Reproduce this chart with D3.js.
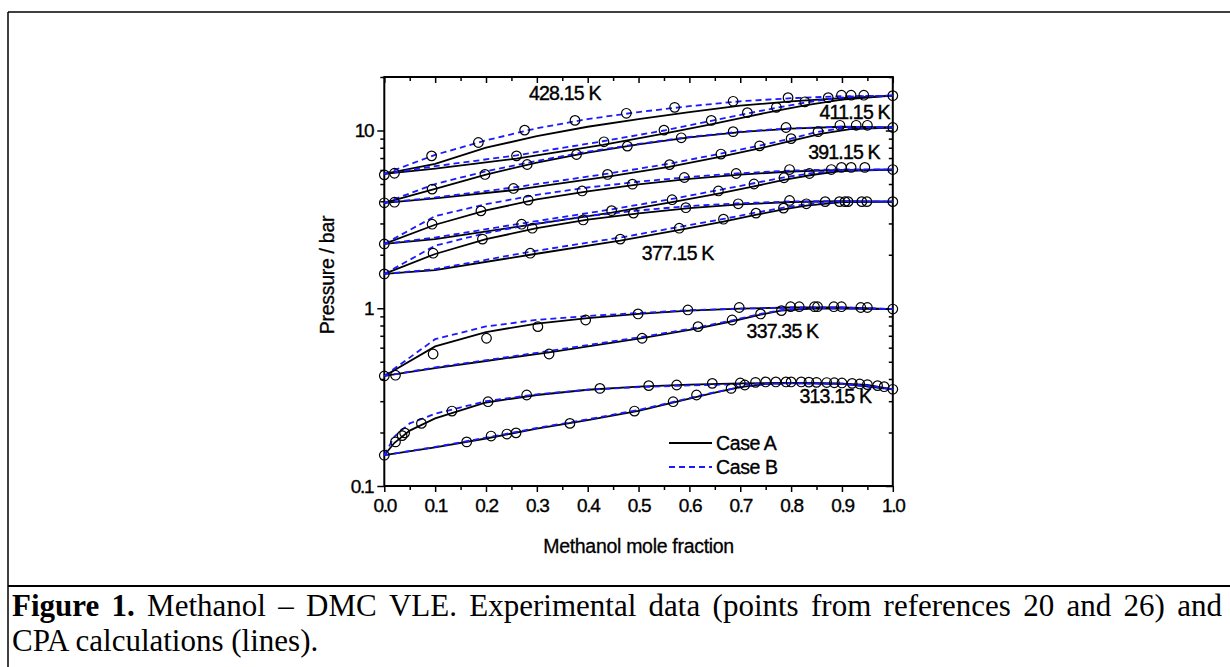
<!DOCTYPE html>
<html>
<head>
<meta charset="utf-8">
<script src="https://cdnjs.cloudflare.com/ajax/libs/d3/7.8.5/d3.min.js"></script>
<style>
body { margin:0; background:#fff; }
svg { display:block; }
.lbl { font-family:"Liberation Sans", Arial, sans-serif; fill:#000; }
.cap { font-family:"Liberation Serif", "Times New Roman", serif; font-size:31px; fill:#000; }
</style>
</head>
<body>
<div id="chart"></div>
<script>
var W = 1230, H = 667;
var margin = {top: 77, left: 384.3}
  , width = 508.5
  , height = 409;

var xTicks = [0, 0.1, 0.2, 0.3, 0.4, 0.5, 0.6, 0.7, 0.8, 0.9, 1.0];
var yTicks = [0.1, 1, 10];
var temps = ["428.15 K", "411.15 K", "391.15 K", "377.15 K", "337.35 K", "313.15 K"];

// experimental points [x, P/bar]
var exp428 = [[0,5.63],[0.02,5.75],[0.093,7.2],[0.185,8.56],[0.276,10.05],[0.375,11.4],[0.476,12.5],[0.571,13.5],[0.686,14.6],[0.794,15.3],[0.873,15.3],[0.899,15.8],[0.918,15.8],[0.943,15.8],[1,15.7],
  [0.26,7.2],[0.432,8.64],[0.55,10.05],[0.643,11.4],[0.714,12.6],[0.771,13.5],[0.827,14.5]];
var exp411 = [[0,3.92],[0.02,3.95],[0.094,4.68],[0.198,5.66],[0.281,6.44],[0.378,7.33],[0.478,8.17],[0.584,9.1],[0.686,9.85],[0.79,10.4],[0.896,10.7],[0.928,10.7],[0.95,10.7],[1,10.4],
  [0.254,4.72],[0.439,5.66],[0.561,6.43],[0.662,7.37],[0.738,8.2],[0.80,9.0],[0.853,9.85]];
var exp391 = [[0,2.3],[0.094,2.97],[0.19,3.53],[0.283,4.06],[0.389,4.57],[0.488,4.99],[0.59,5.44],[0.692,5.73],[0.797,6.03],[0.879,6.03],[0.899,6.2],[0.918,6.2],[0.945,6.2],[1,6.03],
  [0.27,2.97],[0.447,3.54],[0.566,4.08],[0.657,4.57],[0.727,5.0],[0.786,5.42],[0.836,5.73]];
var exp377 = [[0,1.56],[0.096,2.04],[0.193,2.45],[0.291,2.82],[0.391,3.14],[0.49,3.43],[0.593,3.68],[0.696,3.87],[0.797,4.04],[0.867,3.98],[0.906,3.98],[0.949,3.98],[1,3.98],
  [0.287,2.04],[0.464,2.45],[0.58,2.82],[0.667,3.17],[0.731,3.43],[0.785,3.66],[0.83,3.87],[0.895,3.98],[0.912,3.98],[0.939,3.98]];
var exp337 = [[0,0.416],[0.022,0.42],[0.096,0.553],[0.201,0.678],[0.302,0.788],[0.396,0.859],[0.499,0.929],[0.597,0.978],[0.698,1.01],[0.799,1.02],[0.816,1.02],[0.846,1.02],[0.852,1.02],[0.884,1.02],[0.899,1.02],[0.937,1.01],[0.95,1.01],[1,0.99],
  [0.324,0.553],[0.507,0.678],[0.617,0.788],[0.684,0.859],[0.74,0.929],[0.781,0.97]];
var exp313 = [[0,0.149],[0.022,0.177],[0.035,0.192],[0.04,0.199],[0.073,0.225],[0.133,0.264],[0.204,0.298],[0.28,0.325],[0.424,0.354],[0.52,0.367],[0.575,0.37],[0.645,0.378],[0.7,0.38],[0.73,0.383],[0.75,0.385],[0.77,0.385],[0.79,0.385],[0.80,0.385],[0.82,0.385],[0.835,0.384],[0.85,0.383],[0.87,0.382],[0.885,0.381],[0.90,0.38],[0.92,0.378],[0.935,0.375],[0.95,0.372],[0.97,0.367],[0.983,0.362],[1,0.35],
  [0.162,0.177],[0.21,0.191],[0.241,0.196],[0.259,0.199],[0.365,0.225],[0.492,0.264],[0.568,0.298],[0.614,0.325],[0.682,0.354],[0.709,0.37]];

// CPA Case A (solid) bubble / dew
var a428b = [[0,5.7],[0.1,6.5],[0.2,8.0],[0.3,9.3],[0.4,10.5],[0.5,11.6],[0.6,12.7],[0.7,13.8],[0.8,14.6],[0.9,15.2],[1,15.7]];
var a428d = [[0,5.7],[0.1,6.1],[0.26,6.95],[0.43,8.3],[0.55,9.6],[0.64,10.8],[0.71,11.9],[0.77,12.9],[0.83,13.9],[0.9,14.9],[1,15.7]];
var a411b = [[0,3.92],[0.1,4.7],[0.2,5.65],[0.3,6.6],[0.4,7.5],[0.5,8.35],[0.6,9.15],[0.7,9.8],[0.8,10.25],[0.9,10.5],[1,10.4]];
var a411d = [[0,3.92],[0.1,4.15],[0.254,4.62],[0.44,5.5],[0.56,6.25],[0.66,7.1],[0.74,7.95],[0.8,8.75],[0.86,9.6],[0.92,10.2],[1,10.4]];
var a391b = [[0,2.3],[0.1,2.95],[0.2,3.55],[0.3,4.1],[0.4,4.55],[0.5,4.98],[0.6,5.35],[0.7,5.65],[0.8,5.88],[0.9,6.0],[1,6.03]];
var a391d = [[0,2.3],[0.1,2.45],[0.27,2.9],[0.447,3.45],[0.566,3.95],[0.657,4.42],[0.727,4.85],[0.786,5.27],[0.84,5.62],[0.9,5.92],[1,6.03]];
var a377b = [[0,1.56],[0.1,2.02],[0.2,2.45],[0.3,2.82],[0.4,3.15],[0.5,3.42],[0.6,3.66],[0.7,3.84],[0.8,3.96],[0.9,4.0],[1,3.98]];
var a377d = [[0,1.56],[0.1,1.64],[0.287,2.0],[0.464,2.4],[0.578,2.75],[0.667,3.07],[0.73,3.35],[0.785,3.6],[0.83,3.78],[0.9,3.95],[1,3.98]];
var a337b = [[0,0.416],[0.1,0.61],[0.2,0.735],[0.3,0.82],[0.4,0.88],[0.5,0.93],[0.6,0.97],[0.7,0.995],[0.8,1.01],[0.9,1.01],[1,0.99]];
var a337d = [[0,0.416],[0.1,0.46],[0.2,0.505],[0.324,0.565],[0.507,0.68],[0.617,0.77],[0.684,0.845],[0.74,0.92],[0.78,0.97],[0.85,1.0],[1,0.99]];
var a313b = [[0,0.149],[0.02,0.175],[0.05,0.205],[0.1,0.24],[0.2,0.295],[0.3,0.325],[0.4,0.348],[0.5,0.362],[0.6,0.372],[0.7,0.378],[0.8,0.38],[0.9,0.377],[0.95,0.37],[1,0.35]];
var a313d = [[0,0.149],[0.1,0.165],[0.2,0.185],[0.3,0.21],[0.4,0.235],[0.5,0.265],[0.6,0.31],[0.65,0.335],[0.7,0.36],[0.75,0.375],[0.8,0.38],[0.9,0.377],[1,0.35]];

// CPA Case B (dashed) bubble / dew
var b428b = [[0,5.7],[0.1,7.3],[0.2,8.8],[0.3,10.3],[0.4,11.6],[0.5,12.7],[0.6,13.7],[0.7,14.6],[0.8,15.2],[0.9,15.6],[1,15.7]];
var b428d = [[0,5.7],[0.1,6.3],[0.26,7.25],[0.43,8.7],[0.55,10.0],[0.64,11.3],[0.71,12.4],[0.77,13.4],[0.83,14.4],[0.88,15.1],[0.93,15.6],[1,15.7]];
var b411b = [[0,3.92],[0.1,5.0],[0.2,5.9],[0.3,6.75],[0.4,7.6],[0.5,8.4],[0.6,9.2],[0.7,9.85],[0.8,10.3],[0.9,10.5],[1,10.4]];
var b411d = [[0,3.92],[0.1,4.2],[0.254,4.78],[0.44,5.72],[0.56,6.5],[0.66,7.4],[0.74,8.25],[0.8,9.0],[0.85,9.8],[0.9,10.3],[1,10.4]];
var b391b = [[0,2.3],[0.1,3.3],[0.2,3.85],[0.3,4.35],[0.4,4.78],[0.5,5.15],[0.6,5.48],[0.7,5.75],[0.8,5.95],[0.9,6.05],[1,6.03]];
var b391d = [[0,2.3],[0.1,2.5],[0.27,3.0],[0.447,3.6],[0.566,4.12],[0.657,4.62],[0.727,5.05],[0.786,5.45],[0.84,5.75],[0.9,5.98],[1,6.03]];
var b377b = [[0,1.56],[0.1,2.25],[0.2,2.65],[0.3,3.0],[0.4,3.3],[0.5,3.55],[0.6,3.76],[0.7,3.9],[0.8,3.99],[0.9,4.01],[1,3.98]];
var b377d = [[0,1.56],[0.1,1.66],[0.287,2.08],[0.464,2.5],[0.578,2.86],[0.667,3.18],[0.73,3.45],[0.785,3.68],[0.83,3.85],[0.9,3.97],[1,3.98]];
var b337b = [[0,0.416],[0.1,0.67],[0.2,0.79],[0.3,0.86],[0.4,0.905],[0.5,0.94],[0.6,0.975],[0.7,0.995],[0.8,1.01],[0.9,1.01],[1,0.99]];
var b337d = [[0,0.416],[0.1,0.465],[0.2,0.51],[0.324,0.575],[0.507,0.69],[0.617,0.78],[0.684,0.855],[0.74,0.93],[0.78,0.975],[0.85,1.005],[1,0.99]];
var b313b = [[0,0.149],[0.02,0.19],[0.05,0.225],[0.1,0.255],[0.2,0.3],[0.3,0.328],[0.4,0.348],[0.5,0.36],[0.6,0.368],[0.7,0.374],[0.8,0.378],[0.9,0.375],[0.95,0.368],[1,0.35]];
var b313d = [[0,0.149],[0.1,0.166],[0.2,0.187],[0.3,0.212],[0.4,0.237],[0.5,0.268],[0.6,0.312],[0.65,0.337],[0.7,0.36],[0.75,0.374],[0.8,0.378],[0.9,0.375],[1,0.35]];

var caseA = [a428b, a428d, a411b, a411d, a391b, a391d, a377b, a377d, a337b, a337d, a313b, a313d];
var caseB = [b428b, b428d, b411b, b411d, b391b, b391d, b377b, b377d, b337b, b337d, b313b, b313d];
var expAll = [exp428, exp411, exp391, exp377, exp337, exp313];

// label centre per isotherm [x, P at baseline]
var labelPos = [[0.355,14.9],[0.925,11.6],[0.904,6.93],[0.577,1.87],[0.783,0.68],[0.887,0.293]];

var svg = d3.select("#chart").append("svg")
  .attr("width", W)
  .attr("height", H);

// figure frame
svg.append("line").attr("x1", 8).attr("x2", W).attr("y1", 12).attr("y2", 12)
  .attr("stroke", "#000").attr("stroke-width", 1.5);
svg.append("line").attr("x1", 8).attr("x2", 8).attr("y1", 12).attr("y2", H)
  .attr("stroke", "#000").attr("stroke-width", 1.5);
svg.append("line").attr("x1", 8).attr("x2", W).attr("y1", 586).attr("y2", 586)
  .attr("stroke", "#000").attr("stroke-width", 2.2);

var x = d3.scaleLinear().domain([0, 1]).range([0, width]);
var y = d3.scaleLog().domain([0.1, 20]).range([height, 0]);

var g = svg.append("g").attr("transform", "translate(" + margin.left + "," + margin.top + ")");

var xMinor = d3.range(0.05, 1, 0.1);
var yMinor = [0.2,0.3,0.4,0.5,0.6,0.7,0.8,0.9,2,3,4,5,6,7,8,9,20];

function styleAxis(sel, fs, ls) {
  sel.select(".domain").remove();
  sel.selectAll("line").attr("stroke", "#000").attr("stroke-width", 1.5);
  sel.selectAll("text").attr("class", "lbl")
    .style("font-size", fs).style("letter-spacing", ls)
    .attr("stroke", "#000").attr("stroke-width", 0.35);
}

g.append("g").attr("transform", "translate(0," + height + ")")
  .call(d3.axisBottom(x).tickValues(xTicks).tickFormat(d3.format(".1f")).tickSize(6).tickPadding(7))
  .call(styleAxis, "19px", "-1.3px");
g.append("g").attr("transform", "translate(0," + height + ")")
  .call(d3.axisBottom(x).tickValues(xMinor).tickFormat("").tickSize(4))
  .call(styleAxis, "0px", "0");
g.append("g")
  .call(d3.axisTop(x).tickValues(xTicks).tickFormat("").tickSize(-6))
  .call(styleAxis, "0px", "0");
g.append("g")
  .call(d3.axisTop(x).tickValues(xMinor).tickFormat("").tickSize(-4))
  .call(styleAxis, "0px", "0");

g.append("g")
  .call(d3.axisLeft(y).tickValues(yTicks).tickFormat(d3.format("~g")).tickSize(7).tickPadding(4))
  .call(styleAxis, "19px", "-1.3px");
g.append("g")
  .call(d3.axisLeft(y).tickValues(yMinor).tickFormat("").tickSize(4))
  .call(styleAxis, "0px", "0");
g.append("g").attr("transform", "translate(" + width + ",0)")
  .call(d3.axisRight(y).tickValues(yTicks).tickFormat("").tickSize(-7))
  .call(styleAxis, "0px", "0");
g.append("g").attr("transform", "translate(" + width + ",0)")
  .call(d3.axisRight(y).tickValues(yMinor).tickFormat("").tickSize(-4))
  .call(styleAxis, "0px", "0");

g.append("rect")
  .attr("width", width)
  .attr("height", height)
  .attr("fill", "none")
  .attr("stroke", "#000")
  .attr("stroke-width", 2);

var line = d3.line().x(function(d) { return x(d[0]); }).y(function(d) { return y(d[1]); });

g.selectAll(".caseA").data(caseA).enter().append("path")
  .attr("class", "caseA")
  .attr("d", line)
  .attr("fill", "none")
  .attr("stroke", "#000")
  .attr("stroke-width", 1.8);

g.selectAll(".caseB").data(caseB).enter().append("path")
  .attr("class", "caseB")
  .attr("d", line)
  .attr("fill", "none")
  .attr("stroke", "#1a1aff")
  .attr("stroke-width", 1.8)
  .attr("stroke-dasharray", "6,4");

expAll.forEach(function(pts) {
  g.selectAll(null).data(pts).enter().append("circle")
    .attr("cx", function(d) { return x(d[0]); })
    .attr("cy", function(d) { return y(d[1]); })
    .attr("r", 4.8)
    .attr("fill", "none")
    .attr("stroke", "#000")
    .attr("stroke-width", 1.2);
});

g.selectAll(".tlab").data(temps).enter().append("text")
  .attr("class", "lbl tlab")
  .attr("x", function(d, i) { return x(labelPos[i][0]); })
  .attr("y", function(d, i) { return y(labelPos[i][1]); })
  .attr("text-anchor", "middle")
  .attr("stroke", "#000")
  .attr("stroke-width", 0.4)
  .style("font-size", "19.5px")
  .style("letter-spacing", "-0.8px")
  .text(function(d) { return d; });

// legend
var legendItems = [{name: "Case A", color: "#000", dash: null}, {name: "Case B", color: "#1a1aff", dash: "6,4"}];
var legend = g.append("g").attr("transform", "translate(" + (669 - margin.left) + "," + (443 - margin.top) + ")");
legend.selectAll("g").data(legendItems).enter().append("g")
  .each(function(d, i) {
    var lg = d3.select(this);
    lg.append("line")
      .attr("x1", 0).attr("x2", 43)
      .attr("y1", i * 24).attr("y2", i * 24)
      .attr("stroke", d.color)
      .attr("stroke-width", 1.8)
      .attr("stroke-dasharray", d.dash);
    lg.append("text")
      .attr("class", "lbl")
      .attr("x", 47)
      .attr("y", i * 24 + 7)
      .attr("stroke", "#000")
      .attr("stroke-width", 0.35)
      .style("font-size", "19.5px")
      .style("letter-spacing", "-0.4px")
      .text(d.name);
  });

// axis titles
g.append("text")
  .attr("class", "lbl")
  .attr("x", width / 2)
  .attr("y", 553 - margin.top)
  .attr("text-anchor", "middle")
  .attr("stroke", "#000")
  .attr("stroke-width", 0.3)
  .style("font-size", "19.5px")
  .style("letter-spacing", "-0.3px")
  .text("Methanol mole fraction");

g.append("text")
  .attr("class", "lbl")
  .attr("transform", "translate(" + (334 - margin.left) + "," + (275 - margin.top) + ") rotate(-90)")
  .attr("text-anchor", "middle")
  .attr("stroke", "#000")
  .attr("stroke-width", 0.3)
  .style("font-size", "19.5px")
  .style("letter-spacing", "-0.3px")
  .text("Pressure / bar");

// caption, first line justified
var capWords = [["Figure", true], ["1.", true], ["Methanol", false], ["–", false], ["DMC", false], ["VLE.", false],
  ["Experimental", false], ["data", false], ["(points", false], ["from", false], ["references", false],
  ["20", false], ["and", false], ["26)", false], ["and", false]];
var capLeft = 12, capRight = 1222;
var tmp = svg.append("g");
var widths = capWords.map(function(w) {
  var t = tmp.append("text").attr("class", "cap").style("font-weight", w[1] ? "bold" : "normal").text(w[0]);
  return t.node().getComputedTextLength();
});
tmp.remove();
var gap = (capRight - capLeft - d3.sum(widths)) / (capWords.length - 1);
var cx = capLeft;
capWords.forEach(function(w, i) {
  svg.append("text")
    .attr("class", "cap")
    .attr("x", cx)
    .attr("y", 616)
    .style("font-weight", w[1] ? "bold" : "normal")
    .text(w[0]);
  cx += widths[i] + gap;
});
svg.append("text")
  .attr("class", "cap")
  .attr("x", capLeft)
  .attr("y", 651)
  .text("CPA calculations (lines).");
</script>
</body>
</html>
